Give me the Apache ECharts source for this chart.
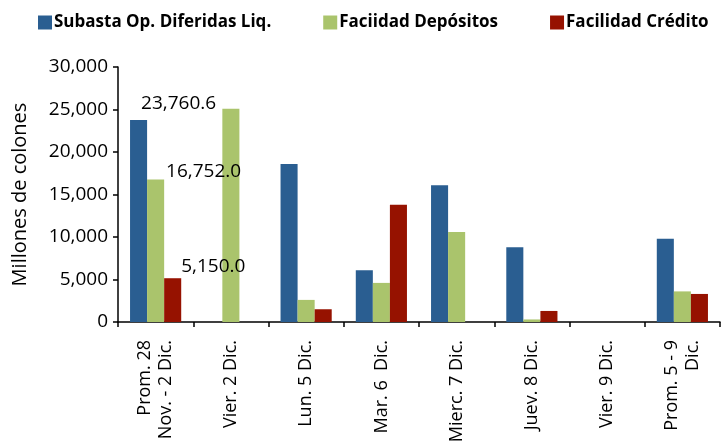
<!DOCTYPE html>
<html>
<head>
<meta charset="utf-8">
<script src="https://cdn.jsdelivr.net/npm/echarts@6/dist/echarts.min.js"></script>
<style>
  html,body{margin:0;padding:0;background:#fff;}
  #chart{width:721px;height:447px;}
</style>
</head>
<body>
<div id="chart"></div>
<script>
// categorias del eje x
const categories = ['Prom. 28\nNov. - 2 Dic.', 'Vier. 2 Dic.', 'Lun. 5 Dic.', 'Mar. 6  Dic.',
  'Mierc. 7 Dic.', 'Juev. 8 Dic.', 'Vier. 9 Dic.', 'Prom. 5 - 9\nDic.'];
// millones de colones
const subasta = [23760.6, null, 18600, 6100, 16100, 8800, null, 9800];
const depositos = [16752.0, 25100, 2600, 4600, 10600, 300, null, 3600];
const credito = [5150.0, null, 1500, 13800, 0, 1300, null, 3300];
const yTicks = [0, 5000, 10000, 15000, 20000, 25000, 30000];

const seriesNames = ['Subasta Op. Diferidas Liq.', 'Faciidad Depósitos', 'Facilidad Crédito'];
const colors = ['#2A5E91', '#AAC46C', '#961200'];
// posicion de la etiqueta del primer dato de cada serie
const labelPos = [[11, -26], [19, -18], [17, -21]];

const fmt = function(v) {
    return Number(v).toLocaleString('en-US', {minimumFractionDigits: 1, maximumFractionDigits: 1});
};

let chart = echarts.init(document.getElementById('chart'));

let series = [subasta, depositos, credito].map(function(arr, i) {
    return {
        name: seriesNames[i],
        type: 'bar',
        barGap: 0,
        barCategoryGap: '32%',
        itemStyle: {color: colors[i]},
        data: arr.map(function(v, j) {
            if (j === 0) {
                return {
                    value: v,
                    label: {
                        show: true,
                        position: labelPos[i],
                        color: '#000',
                        fontFamily: 'Open Sans',
                        fontSize: 19,
                        formatter: function(p) { return fmt(p.value); }
                    }
                };
            }
            return v;
        })
    };
});

chart.setOption({
    animation: false,
    color: colors,
    legend: {
        top: 9,
        left: 33,
        itemWidth: 14,
        itemHeight: 14,
        itemGap: 52,
        icon: 'rect',
        textStyle: {
            color: '#000',
            fontFamily: 'Open Sans',
            fontWeight: 'bold',
            fontSize: 17,
            padding: [0, 0, 0, -3]
        },
        data: seriesNames
    },
    grid: {
        left: 118,
        right: 1,
        top: 67,
        bottom: 125
    },
    xAxis: {
        type: 'category',
        data: categories,
        axisLine: {lineStyle: {color: '#000', width: 1.5}},
        axisTick: {show: true, length: 5, lineStyle: {color: '#000', width: 1.5}},
        axisLabel: {
            rotate: 90,
            interval: 0,
            margin: 18,
            color: '#000',
            fontFamily: 'Open Sans',
            fontSize: 18,
            lineHeight: 21
        }
    },
    yAxis: {
        type: 'value',
        min: yTicks[0],
        max: yTicks[yTicks.length - 1],
        interval: 5000,
        name: 'Millones de colones',
        nameLocation: 'middle',
        nameGap: 88,
        nameRotate: 90,
        nameTextStyle: {color: '#000', fontFamily: 'Open Sans', fontSize: 20},
        axisLine: {show: true, lineStyle: {color: '#000', width: 1.5}},
        axisTick: {show: true, length: 5, lineStyle: {color: '#000', width: 1.5}},
        splitLine: {show: false},
        axisLabel: {
            margin: 10,
            color: '#000',
            fontFamily: 'Open Sans',
            fontSize: 19,
            formatter: function(v) { return v.toLocaleString('en-US'); }
        }
    },
    series: series
});
</script>
</body>
</html>
